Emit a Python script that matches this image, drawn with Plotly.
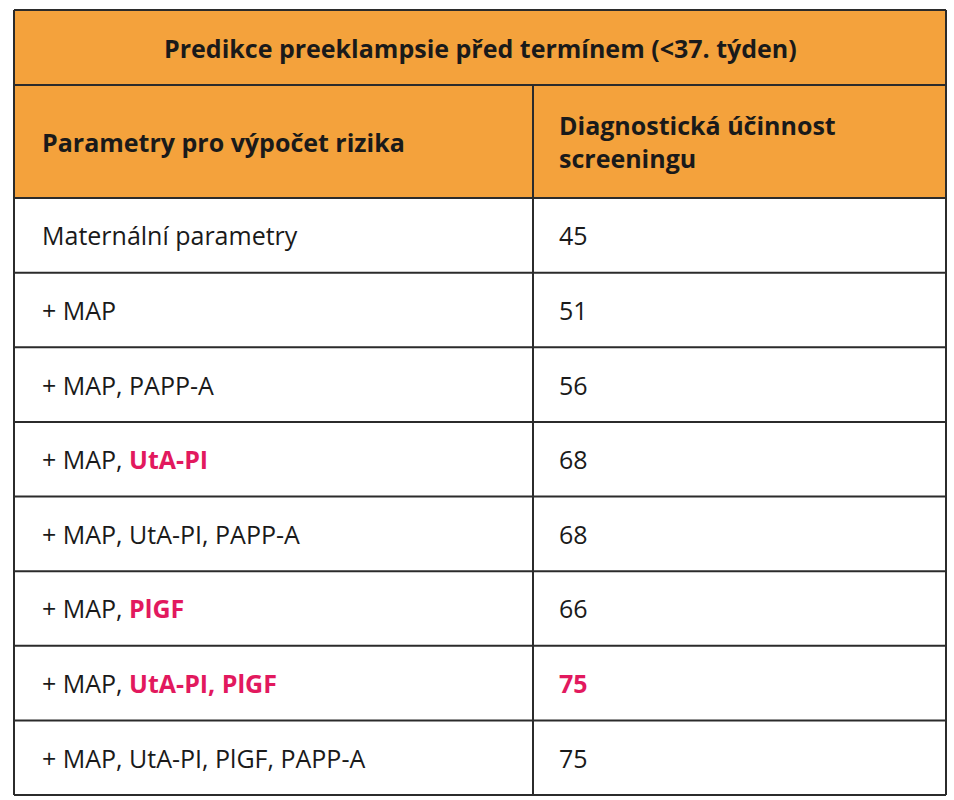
import plotly.graph_objects as go

title = "Predikce preeklampsie před termínem (<37. týden)"
col_headers = ["Parametry pro výpočet rizika", "Diagnostická účinnost<br>screeningu"]
params = ["Maternální parametry", "+ MAP", "+ MAP, PAPP-A",
          "+ MAP, <span style='color:#E2195E'><b>UtA-PI</b></span>",
          "+ MAP, UtA-PI, PAPP-A",
          "+ MAP, <span style='color:#E2195E'><b>PlGF</b></span>",
          "+ MAP, <span style='color:#E2195E'><b>UtA-PI, PlGF</b></span>",
          "+ MAP, UtA-PI, PlGF, PAPP-A"]
values = [45, 51, 56, 68, 68, 66, 75, 75]
highlight = [False, False, False, False, False, False, True, False]

W, H = 954, 800
x0, x1, xm = 14, 946, 533
y_title, y_head, y_body, y_end = 10, 85, 198, 795
orange = "#F4A23C"
line = dict(color="#2b2b2b", width=2)
font = dict(family="Open Sans", size=25, color="#1a1a1a")

shapes, ann = [], []
shapes.append(dict(type="rect", x0=x0, x1=x1, y0=y_title, y1=y_body, fillcolor=orange, line=dict(width=0), layer="below"))
rh = (y_end - y_body) / len(params)
ys = [y_title, y_head, y_body] + [y_body + rh * (i + 1) for i in range(len(params))]
for y in ys:
    shapes.append(dict(type="line", x0=x0, x1=x1, y0=y, y1=y, line=line))
shapes.append(dict(type="line", x0=x0, x1=x0, y0=y_title, y1=y_end, line=line))
shapes.append(dict(type="line", x0=x1, x1=x1, y0=y_title, y1=y_end, line=line))
shapes.append(dict(type="line", x0=xm, x1=xm, y0=y_head, y1=y_end, line=line))

ann.append(dict(x=(x0 + x1) / 2, y=(y_title + y_head) / 2, text="<b>" + title + "</b>", showarrow=False, font=font, xanchor="center"))
ann.append(dict(x=x0 + 26, y=(y_head + y_body) / 2, text="<b>" + col_headers[0] + "</b>", showarrow=False, font=font, xanchor="left", align="left"))
ann.append(dict(x=xm + 24, y=(y_head + y_body) / 2, text="<b>" + col_headers[1] + "</b>", showarrow=False, font=font, xanchor="left", align="left"))
for i, (p, v, h) in enumerate(zip(params, values, highlight)):
    yc = y_body + rh * (i + 0.5)
    ann.append(dict(x=x0 + 26, y=yc, text=p, showarrow=False, font=font, xanchor="left"))
    t = f"<span style='color:#E2195E'><b>{v}</b></span>" if h else str(v)
    ann.append(dict(x=xm + 24, y=yc, text=t, showarrow=False, font=font, xanchor="left"))

fig = go.Figure()
fig.update_layout(width=W, height=H, margin=dict(l=0, r=0, t=0, b=0),
                  paper_bgcolor="white", plot_bgcolor="white",
                  xaxis=dict(range=[0, W], visible=False, fixedrange=True),
                  yaxis=dict(range=[H, 0], visible=False, fixedrange=True),
                  shapes=shapes, annotations=ann, showlegend=False)
fig.write_html("out.html", config={"displayModeBar": False},
               post_script="document.body.style.margin='0';document.body.style.overflow='hidden';")
